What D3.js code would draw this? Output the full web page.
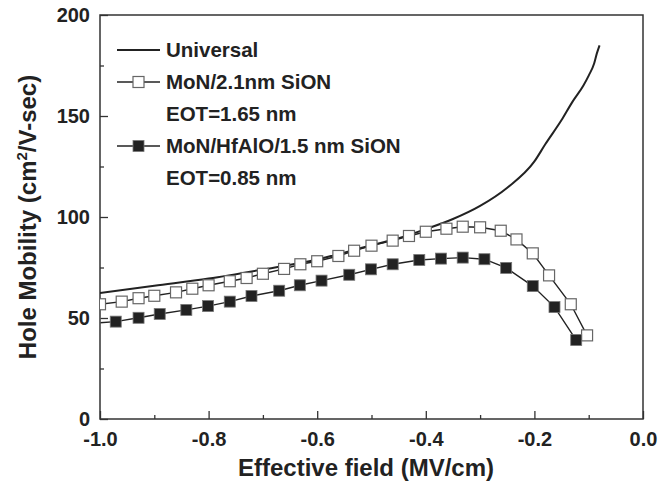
<!DOCTYPE html>
<html>
<head>
<meta charset="utf-8">
<script src="https://cdn.jsdelivr.net/npm/d3@7"></script>
<style>
  body { margin: 0; background: #fff; }
  svg text { font-family: "Liberation Sans", Arial, sans-serif; font-weight: bold; fill: #222; }
</style>
</head>
<body>
<svg id="chart" width="659" height="484"></svg>
<script>
// Universal mobility curve (field MV/cm, mobility cm2/V-s)
const universalX = [-1.0, -0.9, -0.8, -0.7, -0.6, -0.5, -0.45, -0.4, -0.35, -0.3, -0.25, -0.2, -0.18, -0.15, -0.13, -0.11, -0.1, -0.09, -0.085, -0.08];
const universalY = [62.4, 66.0, 69.5, 74.0, 79.0, 86.0, 89.5, 94.0, 99.0, 105.5, 114.5, 127.5, 136, 148, 157, 165, 170, 176, 181, 185];

// MoN/2.1nm SiON (open squares)
const sionX = [-1.0, -0.96, -0.929, -0.9, -0.86, -0.83, -0.8, -0.761, -0.73, -0.7, -0.661, -0.631, -0.6, -0.561, -0.532, -0.5, -0.461, -0.431, -0.4, -0.362, -0.332, -0.3, -0.262, -0.233, -0.203, -0.173, -0.133, -0.103];
const sionY = [56.8, 58.1, 59.8, 61.0, 62.7, 64.5, 66.2, 68.2, 69.8, 71.9, 74.3, 76.6, 78.1, 80.7, 83.3, 85.8, 88.3, 90.6, 92.7, 94.2, 95.2, 94.9, 93.2, 88.9, 82.0, 71.1, 56.8, 41.4];

// MoN/HfAlO/1.5 nm SiON (filled squares)
const hfX = [-1.01, -0.971, -0.929, -0.89, -0.841, -0.801, -0.761, -0.721, -0.67, -0.632, -0.592, -0.541, -0.501, -0.461, -0.412, -0.372, -0.332, -0.292, -0.252, -0.203, -0.163, -0.123];
const hfY = [47.5, 48.2, 50.1, 52.0, 54.0, 55.9, 58.1, 60.9, 63.5, 66.2, 68.5, 71.4, 74.1, 76.6, 78.7, 79.4, 79.9, 79.1, 74.8, 65.8, 55.4, 39.1];

const xMajor = [-1.0, -0.8, -0.6, -0.4, -0.2, 0.0];
const xMinor = [-0.9, -0.7, -0.5, -0.3, -0.1];
const yMajor = [0, 50, 100, 150, 200];
const yMinor = [25, 75, 125, 175];

const legendLabels = ['Universal', 'MoN/2.1nm SiON', 'EOT=1.65 nm', 'MoN/HfAlO/1.5 nm SiON', 'EOT=0.85 nm'];

const margin = { left: 100, right: 16, top: 15, bottom: 65 };
const W = 659, H = 484;

const svg = d3.select('#chart');

const x = d3.scaleLinear().domain([-1, 0]).range([margin.left, W - margin.right]);
const y = d3.scaleLinear().domain([0, 200]).range([H - margin.bottom, margin.top]);

const zip = (xs, ys) => xs.map((v, i) => ({ x: v, y: ys[i] }));
const universal = zip(universalX, universalY);
const sion = zip(sionX, sionY);
const hf = zip(hfX, hfY);

svg.append('clipPath').attr('id', 'plot-clip')
  .append('rect')
  .attr('x', x(-1)).attr('y', y(200))
  .attr('width', x(0) - x(-1)).attr('height', y(0) - y(200));

// axes with inward ticks; plain hyphen for the minus sign
const fmt = v => v.toFixed(1);
const gx = svg.append('g').attr('transform', `translate(0,${y(0)})`)
  .call(d3.axisBottom(x).tickValues(xMajor).tickFormat(fmt).tickSize(-8).tickPadding(13));
const gxm = svg.append('g').attr('transform', `translate(0,${y(0)})`)
  .call(d3.axisBottom(x).tickValues(xMinor).tickFormat('').tickSize(-4));
const gy = svg.append('g').attr('transform', `translate(${x(-1)},0)`)
  .call(d3.axisLeft(y).tickValues(yMajor).tickSize(-8).tickPadding(10));
const gym = svg.append('g').attr('transform', `translate(${x(-1)},0)`)
  .call(d3.axisLeft(y).tickValues(yMinor).tickFormat('').tickSize(-4));

[gx, gxm, gy, gym].forEach(g => {
  g.select('.domain').remove();
  g.selectAll('line').attr('stroke', '#333').attr('stroke-width', 1.3);
  g.selectAll('text').attr('font-size', 20).attr('fill', '#222')
    .style('font-family', '"Liberation Sans", Arial, sans-serif').style('font-weight', 'bold');
});

// frame
svg.append('rect')
  .attr('x', x(-1)).attr('y', y(200))
  .attr('width', x(0) - x(-1)).attr('height', y(0) - y(200))
  .attr('fill', 'none').attr('stroke', '#333').attr('stroke-width', 1.5);

const line = d3.line().x(d => x(d.x)).y(d => y(d.y));
const plot = svg.append('g').attr('clip-path', 'url(#plot-clip)');

plot.append('path').datum(universal)
  .attr('d', d3.line().x(d => x(d.x)).y(d => y(d.y)).curve(d3.curveMonotoneX))
  .attr('fill', 'none').attr('stroke', '#222').attr('stroke-width', 2);

plot.append('path').datum(sion).attr('d', line)
  .attr('fill', 'none').attr('stroke', '#222').attr('stroke-width', 1.4);
plot.append('path').datum(hf).attr('d', line)
  .attr('fill', 'none').attr('stroke', '#222').attr('stroke-width', 1.4);

const s = 11;
plot.selectAll('.open').data(sion).join('rect').attr('class', 'open')
  .attr('x', d => x(d.x) - s / 2).attr('y', d => y(d.y) - s / 2)
  .attr('width', s).attr('height', s)
  .attr('fill', '#fff').attr('stroke', '#666').attr('stroke-width', 1.2);
plot.selectAll('.filled').data(hf).join('rect').attr('class', 'filled')
  .attr('x', d => x(d.x) - s / 2).attr('y', d => y(d.y) - s / 2)
  .attr('width', s).attr('height', s)
  .attr('fill', '#222').attr('stroke', '#777').attr('stroke-width', 0.8);

// legend
const lg = svg.append('g');
const lx0 = 117, lx1 = 160, lxm = 138.5, tx = 166;
const rowY = [50, 82, 114, 146, 178];
lg.append('line').attr('x1', lx0).attr('x2', lx1).attr('y1', rowY[0]).attr('y2', rowY[0])
  .attr('stroke', '#222').attr('stroke-width', 2);
lg.append('line').attr('x1', lx0).attr('x2', lx1).attr('y1', rowY[1]).attr('y2', rowY[1])
  .attr('stroke', '#222').attr('stroke-width', 1.4);
lg.append('rect').attr('x', lxm - s / 2).attr('y', rowY[1] - s / 2).attr('width', s).attr('height', s)
  .attr('fill', '#fff').attr('stroke', '#666').attr('stroke-width', 1.2);
lg.append('line').attr('x1', lx0).attr('x2', lx1).attr('y1', rowY[3]).attr('y2', rowY[3])
  .attr('stroke', '#222').attr('stroke-width', 1.4);
lg.append('rect').attr('x', lxm - s / 2).attr('y', rowY[3] - s / 2).attr('width', s).attr('height', s)
  .attr('fill', '#222').attr('stroke', '#777').attr('stroke-width', 0.8);

lg.selectAll('text').data(legendLabels).join('text')
  .attr('x', tx).attr('y', (d, i) => rowY[i] + 7)
  .attr('font-size', 20.5)
  .text(d => d);

// axis titles
svg.append('text')
  .attr('x', 366).attr('y', 476)
  .attr('text-anchor', 'middle').attr('font-size', 24)
  .text('Effective field (MV/cm)');

const yt = svg.append('text')
  .attr('transform', `translate(36,${(y(0) + y(200)) / 2}) rotate(-90)`)
  .attr('text-anchor', 'middle').attr('font-size', 24);
yt.append('tspan').text('Hole Mobility (cm');
yt.append('tspan').attr('font-size', 15).attr('dy', -9).text('2');
yt.append('tspan').attr('dy', 9).text('/V-sec)');
</script>
</body>
</html>
